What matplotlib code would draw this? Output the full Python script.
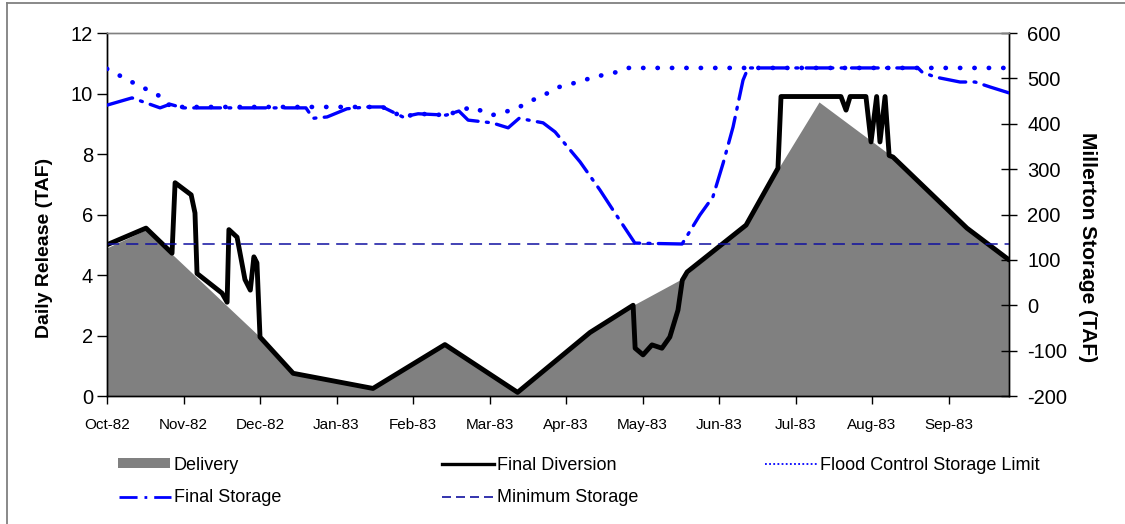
import matplotlib
matplotlib.use("Agg")
import matplotlib.pyplot as plt
from matplotlib.lines import Line2D
from matplotlib.patches import Patch
from matplotlib import font_manager

# ---- data (day of water year, value) ----
month_labels = ["Oct-82", "Nov-82", "Dec-82", "Jan-83", "Feb-83", "Mar-83",
                "Apr-83", "May-83", "Jun-83", "Jul-83", "Aug-83", "Sep-83"]

delivery_day = [0, 15.3, 60.0, 73.0, 104.3, 132.5, 161.0, 189.4, 206.3,
                226.0, 228.5, 250.6, 263.1, 279.2, 308.2, 337.2, 353.7]
delivery_taf = [4.9, 5.5, 1.95, 0.75, 0.25, 1.7, 0.12, 2.1, 3.0,
                3.9, 4.1, 5.65, 7.5, 9.72, 7.9, 5.55, 4.5]

diversion_day = [0, 15.3, 25.5, 26.7, 33.0, 34.5, 35.3, 45.1, 47.1, 47.8,
                 51.0, 54.1, 56.2, 57.6, 58.8, 60.0, 73.0, 104.3, 132.5,
                 161.0, 189.4, 206.3, 207.1, 210.2, 213.7, 217.6, 220.7,
                 223.9, 225.6, 227.5, 250.6, 263.1, 264.3, 287.8, 289.8,
                 291.4, 297.6, 299.6, 301.8, 303.1, 305.1, 306.7, 308.2,
                 337.2, 353.7]
diversion_taf = [5.0, 5.55, 4.72, 7.05, 6.65, 6.05, 4.05, 3.4, 3.1, 5.5,
                 5.25, 3.85, 3.5, 4.6, 4.4, 1.95, 0.75, 0.25, 1.7,
                 0.12, 2.1, 3.0, 1.58, 1.36, 1.69, 1.58, 1.95,
                 2.84, 3.83, 4.1, 5.65, 7.53, 9.9, 9.9, 9.45,
                 9.9, 9.9, 8.4, 9.9, 8.4, 9.9, 7.95, 7.9,
                 5.55, 4.5]

flood_day = [0, 4.7, 9.0, 13.7, 17.6, 22.0, 25.0, 108.0, 116.0, 122.0,
             133.0, 138.0, 143.0, 147.0, 151.0, 155.0, 160.0, 164.0,
             168.6, 173.0, 177.3, 182.0, 186.3, 190.6, 195.3, 200.0,
             204.3, 353.7]
flood_taf = [521, 507, 494, 481, 470, 457, 437, 437, 415, 422,
             419, 428, 437, 428, 419, 424, 433, 443,
             457, 468, 481, 488, 494, 503, 508, 514,
             523, 523]

storage_day = [0, 9.8, 15.3, 20.8, 24.7, 29.8, 78.0, 80.8, 86.3, 90.2,
               94.1, 101.9, 108.0, 116.0, 122.0, 133.0, 138.0, 141.6,
               151.0, 157.3, 161.6, 171.0, 175.7, 185.5, 193.3, 198.4,
               207.0, 225.5, 232.5, 237.6, 241.6, 245.5, 249.4, 251.4,
               318.0, 319.6, 324.7, 334.5, 340.4, 346.3, 353.7]
storage_taf = [441, 457, 446, 435, 443, 435, 435, 412, 415, 424,
               433, 437, 437, 415, 422, 419, 428, 408,
               402, 391, 412, 402, 382, 316, 254, 210,
               137, 135, 199, 239, 313, 393, 496, 523,
               523, 514, 503, 492, 492, 481, 468]

min_storage_taf = 135

# ---- fonts ----
available = {f.name for f in font_manager.fontManager.ttflist}
narrow = "Liberation Sans Narrow" if "Liberation Sans Narrow" in available else "Liberation Sans"
plt.rcParams["font.family"] = ["Liberation Sans", "DejaVu Sans"]
plt.rcParams["axes.unicode_minus"] = False

W, H = 1125, 524
fig = plt.figure(figsize=(W / 100, H / 100), dpi=100)
fig.patch.set_facecolor("white")

# chart frame: top and left edges
frame_kw = dict(transform=fig.transFigure, color="#808080", linewidth=1.3)
fig.add_artist(Line2D([7 / W, 1.0], [1 - 3 / H, 1 - 3 / H], **frame_kw))
fig.add_artist(Line2D([7 / W, 7 / W], [0.0, 1 - 3 / H], **frame_kw))

ax = fig.add_axes([107 / W, 1 - 396 / H, 902 / W, 363 / H])
ax2 = ax.twinx()

x_end = 353.7
ax.set_xlim(0, x_end)
ax.set_ylim(0, 12)
ax2.set_ylim(-200, 600)

# delivery area and diversion line
ax.fill_between(delivery_day, delivery_taf, 0, color="#808080", linewidth=0, zorder=1)
ax.plot(diversion_day, diversion_taf, color="black", linewidth=3.5,
        solid_joinstyle="round", solid_capstyle="round", zorder=3)

# storage series on the secondary axis
ax2.axhline(min_storage_taf, color="#1010a0", linewidth=1.1, dashes=(8, 4.5), zorder=2)
ax2.plot(flood_day, flood_taf, color="#0000ff", linewidth=3.4,
         dashes=(0.05, 3.0), dash_capstyle="round", zorder=3)
ax2.plot(storage_day, storage_taf, color="#0000ff", linewidth=2.4,
         dashes=(8, 2.5, 0.6, 2.5), dash_capstyle="round", zorder=4)

# axes styling
tick_font = 14.5
ax.set_xticks([30 * i for i in range(12)])
ax.set_xticklabels(month_labels, fontfamily=narrow, fontsize=11)
ax.set_yticks(range(0, 13, 2))
ax.tick_params(axis="x", direction="out", length=6, width=1, pad=10)
ax.tick_params(axis="y", direction="out", length=7, width=1, labelsize=tick_font, pad=3)
ax2.set_yticks(range(-200, 601, 100))
ax2.tick_params(axis="y", direction="inout", length=12, width=1, labelsize=tick_font, pad=7)

for a in (ax, ax2):
    a.spines["top"].set_color("#808080")
    for s in a.spines.values():
        s.set_linewidth(1.0)

fig.text(45 / W, 1 - 248 / H, "Daily Release (TAF)", rotation=90,
         ha="center", va="center", fontsize=14, fontweight="bold")
fig.text(1088 / W, 1 - 247 / H, "Millerton Storage (TAF)", rotation=-90,
         ha="center", va="center", fontsize=15, fontweight="bold")

# legend entries, laid out in two rows under the plot
h_delivery = Patch(facecolor="#808080", edgecolor="none")
h_diversion = Line2D([], [], color="black", linewidth=2.4)
h_flood = Line2D([], [], color="#0000ff", linewidth=1.3, dashes=(1, 1.3))
h_storage = Line2D([], [], color="#0000ff", linewidth=2.0, dashes=(6.5, 2.5, 1, 2.5))
h_min = Line2D([], [], color="#1010a0", linewidth=1.2, dashes=(5.4, 3))

entries = [
    (h_delivery, "Delivery", 118, 465),
    (h_diversion, "Final Diversion", 442, 465),
    (h_flood, "Flood Control Storage Limit", 765, 465),
    (h_storage, "Final Storage", 119, 498),
    (h_min, "Minimum Storage", 442, 498),
]
for handle, label, px, py in entries:
    fig.legend([handle], [label], loc="center left",
               bbox_to_anchor=(px / W, 1 - py / H), frameon=False,
               handlelength=2.9, handleheight=0.45, handletextpad=0.15,
               borderpad=0, borderaxespad=0,
               prop={"family": narrow, "size": 13})

fig.savefig("out.png", dpi=100, facecolor="white")
